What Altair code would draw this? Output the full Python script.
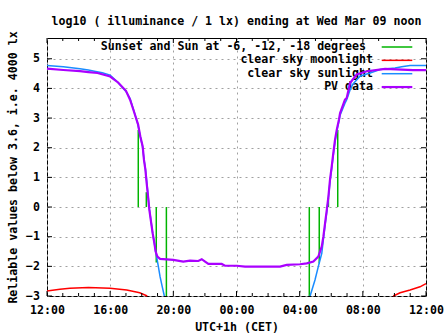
import altair as alt
import pandas as pd

FONT = "DejaVu Sans Mono"
FS = 11.6

# ---- data (hours after 12:00 on the previous day, log10 lux) ----
sun_eve_h = [0.0, 1.03, 2.09, 2.62, 3.0, 3.5, 4.0, 4.5, 5.0, 5.26, 5.47, 5.74, 5.89, 6.04, 6.14,
             6.23, 6.32, 6.40, 6.48, 6.57, 6.69, 6.80, 6.88, 6.95, 7.05, 7.16, 7.30, 7.43]
sun_eve_v = [4.77, 4.73, 4.66, 4.62, 4.58, 4.53, 4.45, 4.2, 3.9, 3.66, 3.3, 2.82, 2.42, 2.06, 1.62,
             1.3, 0.85, 0.4, -0.05, -0.4, -0.88, -1.22, -1.5, -1.7, -2.0, -2.35, -2.69, -3.0]
sun_mor_h = [16.66, 16.97, 17.18, 17.40, 17.50, 17.61, 17.72, 17.82, 17.92, 18.03, 18.13, 18.24,
             18.35, 18.49, 18.56, 18.87, 18.98, 19.19, 19.38, 19.82, 20.46, 21.09, 22.04, 22.46,
             22.99, 24.0]
sun_mor_v = [-3.0, -2.46, -2.01, -1.56, -1.1, -0.6, -0.15, 0.3, 0.85, 1.3, 1.75, 2.2,
             2.55, 2.9, 3.1, 3.5, 3.62, 3.95, 4.15, 4.41, 4.52, 4.64, 4.69, 4.73,
             4.77, 4.77]

pv_h = [0.0, 1.03, 2.09, 2.62, 3.2, 4.0, 4.5, 5.0, 5.26, 5.47, 5.77, 5.91, 6.06, 6.14, 6.23,
        6.31, 6.40, 6.48, 6.57, 6.69, 6.80, 6.88, 6.99, 7.16, 8.0, 8.63, 9.06, 9.58, 9.80,
        10.01, 10.22, 11.06, 11.27, 12.01, 12.54, 14.76, 15.18, 16.02, 16.45, 16.87, 17.18,
        17.40, 17.50, 17.61, 17.72, 17.82, 17.92, 18.03, 18.13, 18.24, 18.35, 18.49, 18.56,
        18.87, 18.98, 19.19, 19.61, 20.25, 21.41, 23.18, 24.0]
pv_v = [4.67, 4.62, 4.58, 4.55, 4.52, 4.4, 4.2, 3.92, 3.62, 3.28, 2.78, 2.38, 2.04, 1.59, 1.26,
        0.81, 0.35, -0.09, -0.43, -0.88, -1.22, -1.5, -1.67, -1.75, -1.78, -1.84, -1.81, -1.82,
        -1.76, -1.84, -1.92, -1.92, -1.98, -1.98, -2.01, -2.01, -1.95, -1.93, -1.9, -1.84, -1.67,
        -1.33, -1.0, -0.54, -0.09, 0.35, 0.92, 1.37, 1.82, 2.27, 2.61, 2.95, 3.17,
        3.62, 3.68, 4.18, 4.47, 4.58, 4.66, 4.62, 4.62]

moon_eve_h = [0.0, 0.82, 1.45, 2.62, 3.99, 5.05, 5.87, 6.35]
moon_eve_v = [-2.83, -2.77, -2.74, -2.71, -2.74, -2.8, -2.89, -3.0]
moon_mor_h = [21.93, 22.36, 22.99, 23.62, 24.0]
moon_mor_v = [-3.0, -2.89, -2.8, -2.69, -2.58]

event_h = [5.78, 6.29, 6.92, 7.56, 16.61, 17.24, 17.82, 18.41]
event_top = [2.6, 0.5, -1.87, -3.0, -3.0, -1.9, 0.3, 2.6]

legend_labels = ["Sunset and Sun at -6, -12, -18 degrees", "clear sky moonlight",
                 "clear sky sunlight", "PV data"]
legend_colors = ["#00b400", "#ff0000", "#1a8cff", "#aa00ff"]
legend_widths = [1.5, 1.5, 1.5, 2.2]

x_major = [0, 4, 8, 12, 16, 20, 24]
x_minor = [h for h in range(25) if h % 4 != 0]
y_major = [-3, -2, -1, 0, 1, 2, 3, 4, 5]

title_text = "log10 ( illuminance / 1 lx) ending at Wed Mar 09 noon"
y_title = "Reliable values below 3.6, i.e. 4000 lx"
x_title = "UTC+1h (CET)"

W, H = 379, 258

# ---- frames ----
sun = pd.concat([
    pd.DataFrame({"h": sun_eve_h, "v": sun_eve_v, "seg": "eve"}),
    pd.DataFrame({"h": sun_mor_h, "v": sun_mor_v, "seg": "mor"}),
])
moon = pd.concat([
    pd.DataFrame({"h": moon_eve_h, "v": moon_eve_v, "seg": "eve"}),
    pd.DataFrame({"h": moon_mor_h, "v": moon_mor_v, "seg": "mor"}),
])
pv = pd.DataFrame({"h": pv_h, "v": pv_v})
events = pd.DataFrame({"h": event_h, "top": event_top})

xs = alt.Scale(domain=[0, 24], nice=False, zero=False)
ys = alt.Scale(domain=[-3, 5.7], nice=False, zero=False)

lab_expr = ("(((datum.value + 12) % 24) < 10 ? '0' : '') + "
            "((datum.value + 12) % 24) + ':00'")

x_axis = alt.Axis(values=x_major, labelExpr=lab_expr, grid=True, gridDash=[2, 4],
                  gridColor="#a0a0a0", gridWidth=1, ticks=False, tickSize=0, domain=False,
                  labelPadding=17, labelBaseline="alphabetic", labelFont=FONT,
                  labelFontSize=FS, labelFontWeight="bold", labelColor="black",
                  labelOverlap=False, labelFlush=False,
                  title=x_title, titleX=W / 2, titleY=31, titleAlign="center",
                  titleBaseline="middle", titleFont=FONT, titleFontSize=FS,
                  titleFontWeight="bold", titleColor="black")
y_axis = alt.Axis(values=y_major, grid=True, gridDash=[2, 4], gridColor="#a0a0a0",
                  gridWidth=1, ticks=False, tickSize=0, domain=False, labelPadding=7.5,
                  labelFont=FONT, labelFontSize=FS, labelFontWeight="bold",
                  labelColor="black", labelOverlap=False, labelFlush=False,
                  title=y_title, titleX=-34, titleY=129, titleAngle=270,
                  titleAlign="center", titleBaseline="middle", titleFont=FONT,
                  titleFontSize=FS, titleFontWeight="bold", titleColor="black")


def X(f="h"):
    return alt.X(f"{f}:Q", scale=xs, axis=x_axis)


def Y(f="v"):
    return alt.Y(f"{f}:Q", scale=ys, axis=y_axis)


layers = []

# legend text and samples
for i, (lab, col, sw) in enumerate(zip(legend_labels, legend_colors, legend_widths)):
    yy = 9 + 13.35 * i
    right = 319 if i == 0 else 326
    layers.append(
        alt.Chart(pd.DataFrame({"label": [lab]})).mark_text(
            align="right", baseline="middle", font=FONT, fontSize=FS,
            fontWeight="bold", color="black"
        ).encode(x=alt.value(right), y=alt.value(yy), text="label:N")
    )
    layers.append(
        alt.Chart(pd.DataFrame({"label": [lab]})).mark_rule(
            color=col, strokeWidth=sw
        ).encode(x=alt.value(334.7), x2=alt.value(365.3), y=alt.value(yy))
    )

# sun event lines
layers.append(
    alt.Chart(events).mark_rule(color="#00b400", strokeWidth=1.5).encode(
        x=X(), y=Y("top"), y2=alt.datum(0)
    )
)
# moon
layers.append(
    alt.Chart(moon).mark_line(color="#ff0000", strokeWidth=1.5).encode(
        x=X(), y=Y(), detail="seg:N", order="h:Q"
    )
)
# sun
layers.append(
    alt.Chart(sun).mark_line(color="#1a8cff", strokeWidth=1.5).encode(
        x=X(), y=Y(), detail="seg:N", order="h:Q"
    )
)
# PV
layers.append(
    alt.Chart(pv).mark_line(color="#aa00ff", strokeWidth=2.2).encode(
        x=X(), y=Y(), order="h:Q"
    )
)

# inward ticks
xmaj = pd.DataFrame({"h": x_major})
xmin = pd.DataFrame({"h": x_minor})
ymaj = pd.DataFrame({"v": y_major})
layers += [
    alt.Chart(xmaj).mark_rule(color="black").encode(x=X(), y=alt.value(H), y2=alt.value(H - 5)),
    alt.Chart(xmaj).mark_rule(color="black").encode(x=X(), y=alt.value(0), y2=alt.value(5)),
    alt.Chart(xmin).mark_rule(color="black").encode(x=X(), y=alt.value(H), y2=alt.value(H - 3)),
    alt.Chart(xmin).mark_rule(color="black").encode(x=X(), y=alt.value(0), y2=alt.value(3)),
    alt.Chart(ymaj).mark_rule(color="black").encode(y=Y(), x=alt.value(0), x2=alt.value(5)),
    alt.Chart(ymaj).mark_rule(color="black").encode(y=Y(), x=alt.value(W), x2=alt.value(W - 5)),
]

# title
layers.append(
    alt.Chart(pd.DataFrame({"t": [title_text]})).mark_text(
        align="center", baseline="middle", font=FONT, fontSize=FS,
        fontWeight="bold", color="black"
    ).encode(x=alt.value(W / 2), y=alt.value(-16), text="t:N")
)

chart = alt.layer(*layers).properties(
    width=W, height=H,
    padding={"left": 47, "top": 38, "right": 21, "bottom": 39},
    autosize=alt.AutoSizeParams(type="none"),
    background="white",
).configure_view(stroke="black", strokeWidth=1)

chart.save("out.html", embed_options={"renderer": "svg", "actions": False})
